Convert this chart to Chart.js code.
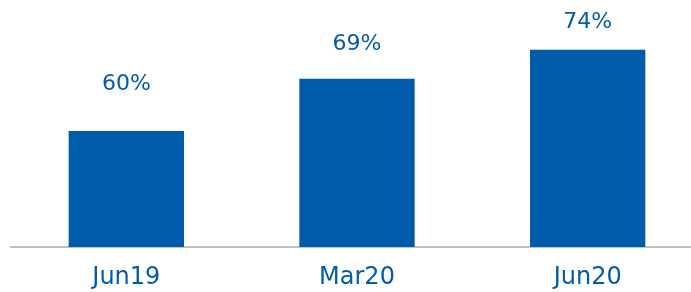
<!DOCTYPE html>
<html>
<head>
<meta charset="utf-8">
<script src="https://cdn.jsdelivr.net/npm/chart.js@4"></script>
<style>
  html, body { margin: 0; padding: 0; background: #fff; overflow: hidden; }
  #wrap { width: 691px; height: 292px; overflow: hidden; }
</style>
</head>
<body>
<div id="wrap"><canvas id="barChart" width="703" height="292"></canvas></div>
<script>
const categories = ["Jun19", "Mar20", "Jun20"];
const shareValues = [60, 69, 74];
const valueLabels = ["60%", "69%", "74%"];

const BLUE = "#005caa";

// value labels above the bars, placed through a hidden helper scale
const valueLabelPlugin = {
  id: "valueLabels",
  afterDatasetsDraw(chart) {
    const ctx = chart.ctx;
    const meta = chart.getDatasetMeta(0);
    const labelScale = chart.scales.yLabel;
    ctx.save();
    ctx.fillStyle = BLUE;
    ctx.font = "22px 'DejaVu Sans'";
    ctx.textAlign = "center";
    ctx.textBaseline = "middle";
    meta.data.forEach((bar, i) => {
      ctx.fillText(valueLabels[i], bar.x, labelScale.getPixelForValue(shareValues[i]));
    });
    ctx.restore();
  }
};

const ctx = document.getElementById("barChart").getContext("2d");
new Chart(ctx, {
  type: "bar",
  data: {
    labels: categories,
    datasets: [
      {
        data: shareValues,
        backgroundColor: BLUE,
        categoryPercentage: 1,
        barPercentage: 0.5,
      },
    ],
  },
  options: {
    responsive: false,
    animation: false,
    layout: { padding: { left: 11, right: 0, top: 0, bottom: 0 } },
    plugins: { legend: { display: false }, tooltip: { enabled: false } },
    scales: {
      x: {
        grid: { display: false, drawTicks: false },
        border: { display: true, color: "#c0c0c0", width: 2 },
        ticks: { color: BLUE, font: { family: "DejaVu Sans", size: 24 }, padding: 16 },
        afterFit(scale) { scale.height = 45; },
      },
      y: { display: false, min: 40, max: 82.6 },
      yLabel: { display: false, min: 23.3, max: 79.1 },
    },
  },
  plugins: [valueLabelPlugin],
});
</script>
</body>
</html>
